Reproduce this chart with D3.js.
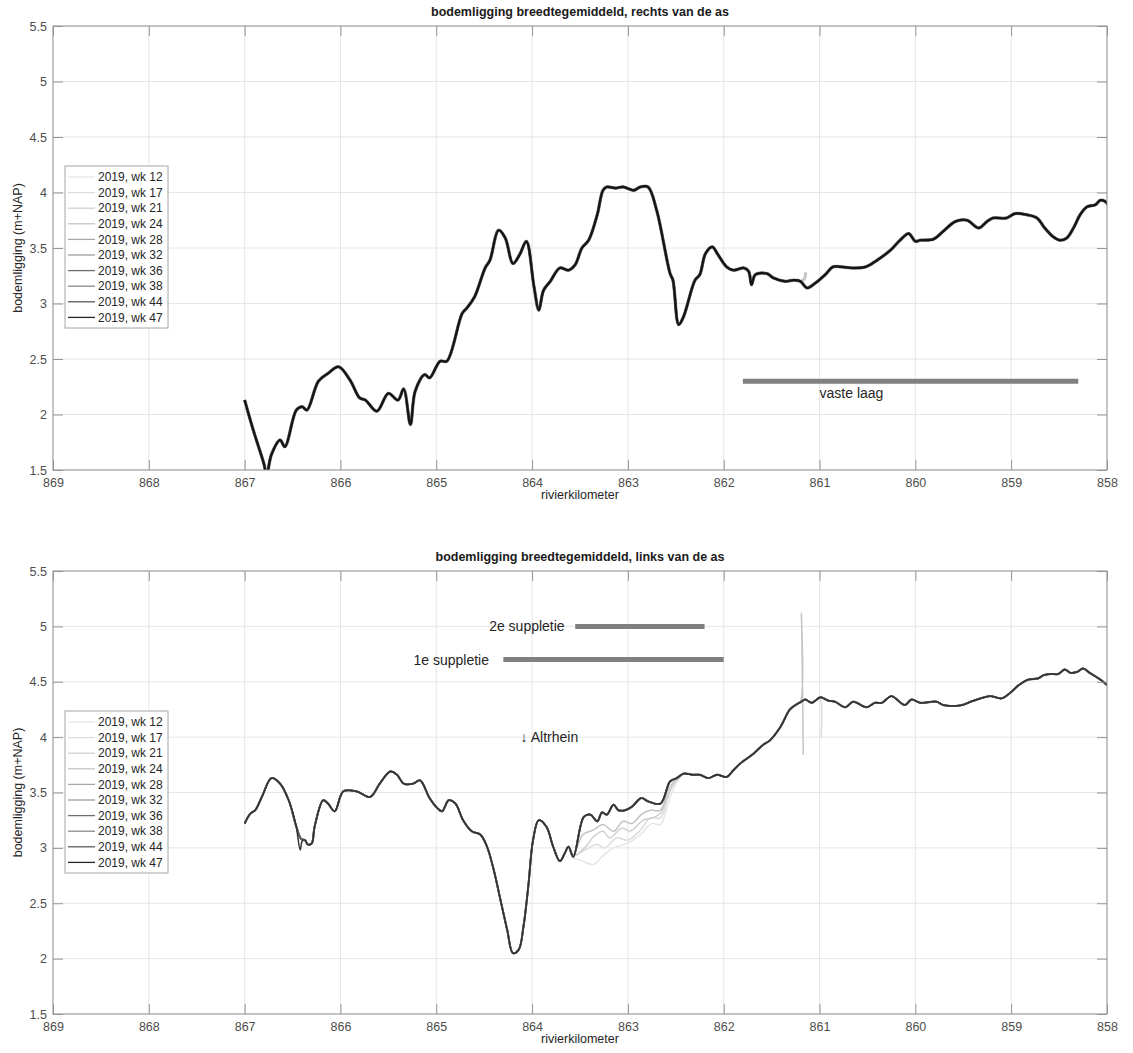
<!DOCTYPE html>
<html>
<head>
<meta charset="utf-8">
<script src="https://cdn.jsdelivr.net/npm/d3@7"></script>
<style>
  body { margin: 0; background: #fff; }
  text { font-family: "Liberation Sans", Arial, sans-serif; }
</style>
</head>
<body>
<svg id="chart" width="1133" height="1053"></svg>
<script>
// ---- survey weeks ----
const weeks = ["2019, wk 12", "2019, wk 17", "2019, wk 21", "2019, wk 24", "2019, wk 28",
               "2019, wk 32", "2019, wk 36", "2019, wk 38", "2019, wk 44", "2019, wk 47"];
const weekColors = ["#e6e6e6", "#dcdcdc", "#d0d0d0", "#c4c4c4", "#a8a8a8",
                    "#9c9c9c", "#6e6e6e", "#8a8a8a", "#5a5a5a", "#262626"];

// ---- axes ----
const kmTicks = [869, 868, 867, 866, 865, 864, 863, 862, 861, 860, 859, 858];
const bedTicks = [1.5, 2, 2.5, 3, 3.5, 4, 4.5, 5, 5.5];

// ---- right of the axis: width-averaged bed level (m+NAP) ----
const rightKm = [867.00,866.91,866.80,866.77,866.72,866.63,866.58,866.46,866.40,866.35,866.23,866.13,866.02,865.90,865.80,865.74,865.62,865.50,865.40,865.34,865.27,865.22,865.12,865.07,864.96,864.89,864.73,864.68,864.60,864.49,864.44,864.35,864.28,864.20,864.13,864.06,863.98,863.93,863.88,863.81,863.71,863.62,863.55,863.48,863.41,863.32,863.26,863.22,863.13,863.05,862.94,862.87,862.79,862.70,862.56,862.53,862.47,862.42,862.30,862.25,862.19,862.12,862.06,861.97,861.90,861.79,861.74,861.71,861.67,861.55,861.48,861.36,861.27,861.20,861.13,861.05,860.94,860.86,860.77,860.65,860.52,860.40,860.26,860.16,860.07,860.00,859.95,859.81,859.71,859.58,859.46,859.34,859.25,859.19,859.05,858.96,858.84,858.73,858.65,858.56,858.49,858.42,858.35,858.28,858.21,858.12,858.07,858.02,857.99];
const rightBed = [2.13,1.86,1.56,1.46,1.64,1.77,1.71,2.04,2.07,2.04,2.30,2.37,2.43,2.31,2.15,2.13,2.03,2.19,2.13,2.23,1.91,2.21,2.36,2.33,2.48,2.48,2.91,2.96,3.06,3.32,3.39,3.66,3.59,3.36,3.44,3.56,3.15,2.94,3.12,3.20,3.32,3.30,3.35,3.50,3.57,3.80,4.02,4.05,4.04,4.05,4.02,4.05,4.05,3.84,3.27,3.21,2.81,2.88,3.21,3.26,3.45,3.51,3.44,3.33,3.30,3.32,3.29,3.17,3.26,3.27,3.23,3.20,3.21,3.20,3.14,3.18,3.26,3.33,3.33,3.32,3.33,3.39,3.48,3.57,3.63,3.56,3.57,3.58,3.65,3.74,3.75,3.68,3.74,3.77,3.77,3.81,3.80,3.77,3.68,3.60,3.57,3.59,3.68,3.80,3.87,3.89,3.93,3.92,3.89];
// wk 24 record stops with a short upturn near km 861.15
const rightWk24End = [[861.16, 3.22], [861.145, 3.28], [861.14, null], [861.13, 3.14]];

// ---- left of the axis ----
const leftKm = [867.00,866.94,866.89,866.82,866.72,866.63,866.54,866.46,866.41,866.37,866.34,866.30,866.27,866.18,866.13,866.06,865.97,865.83,865.69,865.59,865.48,865.41,865.34,865.24,865.17,865.07,864.99,864.94,864.87,864.80,864.72,864.63,864.54,864.47,864.40,864.33,864.26,864.20,864.14,864.09,864.04,863.99,863.93,863.85,863.78,863.71,863.66,863.62,863.57,863.46,863.39,863.32,863.27,863.22,863.15,863.10,863.03,862.96,862.86,862.79,862.66,862.56,862.49,862.42,862.32,862.25,862.16,862.07,861.97,861.90,861.83,861.69,861.59,861.52,861.41,861.31,861.25,861.19,861.15,861.08,860.99,860.91,860.84,860.73,860.65,860.51,860.42,860.35,860.25,860.11,860.04,859.95,859.78,859.71,859.60,859.51,859.39,859.22,859.10,859.01,858.92,858.82,858.72,858.66,858.59,858.51,858.44,858.38,858.31,858.25,858.18,858.07,858.00];
const leftBed = [3.22,3.31,3.34,3.46,3.63,3.58,3.43,3.19,3.08,3.07,3.03,3.04,3.19,3.43,3.40,3.33,3.51,3.51,3.46,3.58,3.69,3.66,3.58,3.58,3.61,3.45,3.36,3.33,3.43,3.40,3.25,3.15,3.12,3.01,2.80,2.53,2.26,2.05,2.08,2.29,2.65,3.07,3.25,3.19,3.01,2.88,2.95,3.01,2.92,3.28,3.30,3.24,3.32,3.30,3.39,3.34,3.34,3.37,3.45,3.42,3.40,3.60,3.63,3.67,3.66,3.66,3.63,3.66,3.64,3.70,3.76,3.85,3.93,3.97,4.09,4.25,4.29,4.32,4.34,4.31,4.36,4.33,4.32,4.27,4.32,4.27,4.31,4.31,4.37,4.29,4.34,4.31,4.32,4.29,4.28,4.29,4.33,4.37,4.35,4.40,4.47,4.52,4.53,4.56,4.57,4.57,4.61,4.58,4.59,4.62,4.58,4.52,4.47];
// surveys before the nourishments, reach km 863.6 - 862.5
const leftWk12Reach = [[863.57,2.91],[863.50,2.89],[863.36,2.85],[863.27,2.92],[863.15,3.00],[863.01,3.04],[862.87,3.12],[862.75,3.22],[862.66,3.21],[862.59,3.37],[862.53,3.52],[862.46,3.63]];
const leftWk17Reach = [[863.57,2.93],[863.45,2.98],[863.32,3.03],[863.24,3.00],[863.12,3.09],[863.00,3.07],[862.87,3.16],[862.77,3.27],[862.66,3.27],[862.59,3.43],[862.53,3.57],[862.46,3.64]];
const leftWk21Reach = [[863.57,2.93],[863.45,3.00],[863.36,3.10],[863.26,3.15],[863.19,3.09],[863.06,3.18],[862.98,3.15],[862.84,3.25],[862.75,3.27],[862.66,3.31],[862.58,3.48],[862.51,3.59],[862.46,3.64]];
const leftWk24Reach = [[863.57,2.94],[863.47,3.12],[863.36,3.16],[863.26,3.21],[863.15,3.15],[863.05,3.24],[862.96,3.22],[862.86,3.30],[862.77,3.34],[862.66,3.34],[862.58,3.52],[862.50,3.62],[862.46,3.64]];
// survey artefacts near km 861.2 and 861.0, and the local scour hole of wk 47
const leftWk24Spike = [[861.20, 4.32], [861.19, 5.12], [861.17, 3.84], [861.16, null], [861.15, 4.34]];
const leftWk17Drop = [[861.00, 4.36], [860.985, 3.99], [860.975, null], [860.96, 4.34]];
const leftWk47Dip = [[866.45, 3.13], [866.42, 2.98], [866.40, 3.06], [866.38, 3.07]];

// ---- annotations ----
const fixedLayer = { from: 861.8, to: 858.3, bed: 2.3, label: "vaste laag", labelKm: 861.0, labelBed: 2.19 };
const nourishments = [
  { from: 863.55, to: 862.2, bed: 5.0, label: "2e suppletie", labelKm: 863.66 },
  { from: 864.3, to: 862.0, bed: 4.7, label: "1e suppletie", labelKm: 864.45 }
];
const altrhein = { km: 864.12, bed: 4.0, label: "\u2193 Altrhein" };

// ---- helpers ----
function patch(base, seg) {
  const hi = d3.max(seg, d => d[0]), lo = d3.min(seg, d => d[0]);
  return base.filter(d => d[0] > hi).concat(seg, base.filter(d => d[0] < lo));
}

const rightBase = d3.zip(rightKm, rightBed);
const leftBase = d3.zip(leftKm, leftBed);

const rightSeries = weeks.map((w, i) => i === 3 ? patch(rightBase, rightWk24End) : rightBase);
const leftPatches = {
  0: [leftWk12Reach],
  1: [leftWk17Reach, leftWk17Drop],
  2: [leftWk21Reach],
  3: [leftWk24Reach, leftWk24Spike],
  9: [leftWk47Dip]
};
const leftSeries = weeks.map((w, i) => (leftPatches[i] || []).reduce((s, p) => patch(s, p), leftBase));

// ---- drawing ----
const svg = d3.select("#chart");
const x = d3.scaleLinear().domain([869, 858]).range([53, 1107]);
const TICK = 10;

function panel(cfg) {
  const y = d3.scaleLinear().domain([1.5, 5.5]).range([cfg.bottom, cfg.top]);
  const g = svg.append("g");
  const [x0, x1] = x.range();

  // grid
  g.append("g").selectAll("line").data(kmTicks).join("line")
    .attr("x1", d => x(d)).attr("x2", d => x(d))
    .attr("y1", cfg.top).attr("y2", cfg.bottom)
    .attr("stroke", "#e6e6e6").attr("stroke-width", 1);
  g.append("g").selectAll("line").data(bedTicks).join("line")
    .attr("x1", x0).attr("x2", x1)
    .attr("y1", d => y(d)).attr("y2", d => y(d))
    .attr("stroke", "#e6e6e6").attr("stroke-width", 1);

  // clip for the profiles
  svg.append("clipPath").attr("id", cfg.id + "-clip")
    .append("rect").attr("x", x0).attr("y", cfg.top)
    .attr("width", x1 - x0).attr("height", cfg.bottom - cfg.top);

  const line = d3.line()
    .defined(d => d[1] != null)
    .curve(d3.curveCatmullRom.alpha(0.5))
    .x(d => x(d[0])).y(d => y(d[1]));

  const lines = g.append("g").attr("clip-path", `url(#${cfg.id}-clip)`);
  cfg.series.forEach((s, i) => {
    lines.append("path").datum(s)
      .attr("d", line)
      .attr("fill", "none")
      .attr("stroke", cfg.colors[i])
      .attr("stroke-width", cfg.widths[i])
      .attr("stroke-linejoin", "round");
  });

  // annotation bars and texts
  cfg.bars.forEach(b => {
    g.append("line")
      .attr("x1", x(b.from)).attr("x2", x(b.to))
      .attr("y1", y(b.bed)).attr("y2", y(b.bed))
      .attr("stroke", "#808080").attr("stroke-width", 5);
  });
  cfg.texts.forEach(t => {
    g.append("text")
      .attr("x", x(t.km)).attr("y", y(t.bed))
      .attr("dy", "0.35em")
      .attr("text-anchor", t.anchor)
      .attr("font-size", 14).attr("fill", "#262626")
      .text(t.label);
  });

  // frame
  g.append("rect").attr("x", x0).attr("y", cfg.top)
    .attr("width", x1 - x0).attr("height", cfg.bottom - cfg.top)
    .attr("fill", "none").attr("stroke", "#959595").attr("stroke-width", 1);

  // x axis (bottom), with inward ticks also at the top edge
  const xAxis = g.append("g").attr("transform", `translate(0,${cfg.bottom})`)
    .call(d3.axisBottom(x).tickValues(kmTicks).tickFormat(d3.format("d"))
      .tickSizeInner(-TICK).tickSizeOuter(0).tickPadding(8));
  const xTop = g.append("g").attr("transform", `translate(0,${cfg.top})`)
    .call(d3.axisTop(x).tickValues(kmTicks).tickFormat("").tickSizeInner(-TICK).tickSizeOuter(0));
  const yAxis = g.append("g").attr("transform", `translate(${x0},0)`)
    .call(d3.axisLeft(y).tickValues(bedTicks).tickFormat(d3.format("")).tickSizeInner(-TICK).tickSizeOuter(0).tickPadding(6));
  const yRight = g.append("g").attr("transform", `translate(${x1},0)`)
    .call(d3.axisRight(y).tickValues(bedTicks).tickFormat("").tickSizeInner(-TICK).tickSizeOuter(0));
  [xAxis, xTop, yAxis, yRight].forEach(a => {
    a.select(".domain").remove();
    a.selectAll(".tick line").attr("stroke", "#959595");
    a.selectAll(".tick text").attr("fill", "#4d4d4d").attr("font-size", 12.5)
      .attr("font-family", "'Liberation Sans', Arial, sans-serif");
  });

  // titles
  g.append("text").attr("x", (x0 + x1) / 2).attr("y", cfg.top - 10)
    .attr("text-anchor", "middle").attr("font-size", 12.5).attr("font-weight", "bold")
    .attr("fill", "#1a1a1a").text(cfg.title);
  g.append("text").attr("x", (x0 + x1) / 2).attr("y", cfg.bottom + 29)
    .attr("text-anchor", "middle").attr("font-size", 12.5).attr("fill", "#262626")
    .text("rivierkilometer");
  g.append("text")
    .attr("transform", `translate(22,${(cfg.top + cfg.bottom) / 2}) rotate(-90)`)
    .attr("text-anchor", "middle").attr("font-size", 12.5).attr("fill", "#262626")
    .text("bodemligging (m+NAP)");

  // legend
  const lg = g.append("g").attr("transform", `translate(65,${cfg.legendTop})`);
  const rowH = 15.6;
  lg.append("rect").attr("x", 0).attr("y", 0).attr("width", 103)
    .attr("height", rowH * weeks.length + 6)
    .attr("fill", "#fff").attr("stroke", "#a6a6a6").attr("stroke-width", 1);
  weeks.forEach((w, i) => {
    const cy = 11 + i * rowH;
    lg.append("line").attr("x1", 3).attr("x2", 30).attr("y1", cy).attr("y2", cy)
      .attr("stroke", weekColors[i]).attr("stroke-width", 1.3);
    lg.append("text").attr("x", 33).attr("y", cy).attr("dy", "0.35em")
      .attr("font-size", 12).attr("fill", "#262626").text(w);
  });
}

panel({
  id: "right", top: 26, bottom: 470, legendTop: 166,
  title: "bodemligging breedtegemiddeld, rechts van de as",
  series: rightSeries,
  colors: weekColors.slice(0, 9).concat(["#141414"]),
  widths: [3.6, 3.4, 3.2, 3.0, 2.8, 2.6, 2.5, 2.4, 2.3, 2.2],
  bars: [fixedLayer],
  texts: [{ km: fixedLayer.labelKm, bed: fixedLayer.labelBed, label: fixedLayer.label, anchor: "start" }]
});

panel({
  id: "left", top: 571, bottom: 1014, legendTop: 711,
  title: "bodemligging breedtegemiddeld, links van de as",
  series: leftSeries,
  colors: weekColors.slice(0, 9).concat(["#333333"]),
  widths: [1.5, 1.5, 1.5, 1.5, 1.9, 1.9, 1.9, 1.9, 1.7, 1.5],
  bars: nourishments,
  texts: nourishments.map(n => ({ km: n.labelKm, bed: n.bed, label: n.label, anchor: "end" }))
    .concat([{ km: altrhein.km, bed: altrhein.bed, label: altrhein.label, anchor: "start" }])
});
</script>
</body>
</html>
